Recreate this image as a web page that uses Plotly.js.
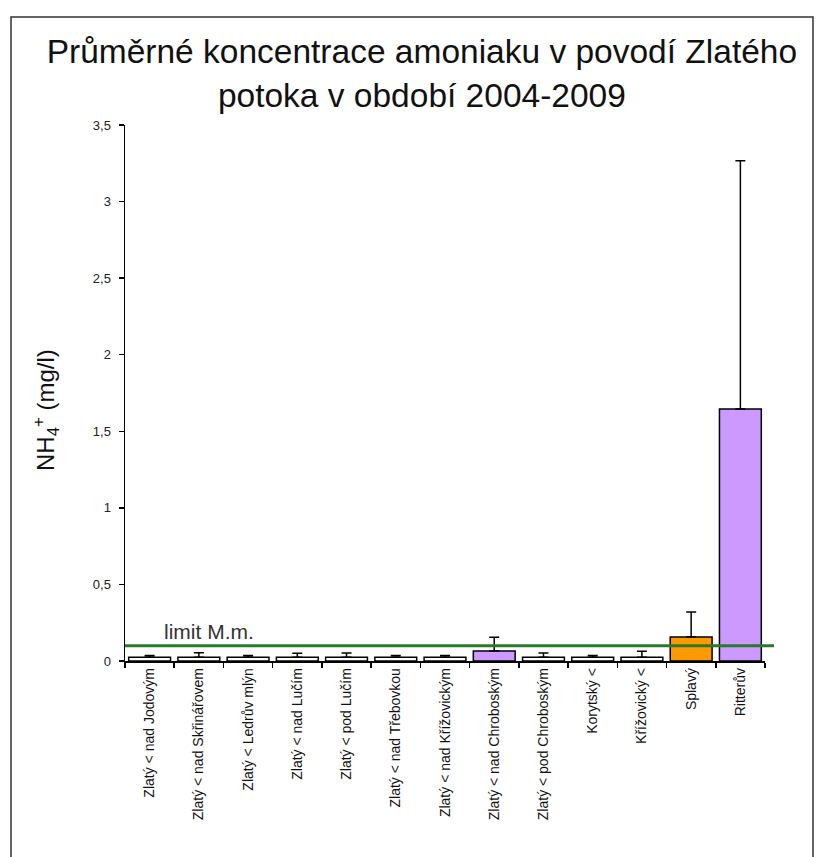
<!DOCTYPE html>
<html>
<head>
<meta charset="utf-8">
<script src="https://cdn.plot.ly/plotly-3.0.1.min.js"></script>
<style>
html,body{margin:0;padding:0;background:#fff;}
#chart{width:816px;height:857px;}
</style>
</head>
<body>
<div id="chart"></div>
<script>
// ---- data ----
const categories = [
  "Zlatý < nad Jodovým",
  "Zlatý < nad Skřinářovem",
  "Zlatý < Ledrův mlýn",
  "Zlatý < nad Lučím",
  "Zlatý < pod Lučím",
  "Zlatý < nad Třebovkou",
  "Zlatý < nad Křížovickým",
  "Zlatý < nad Chroboským",
  "Zlatý < pod Chroboským",
  "Korytský <",
  "Křížovický <",
  "Splavý",
  "Ritterův"
];
const meanValues = [0.024, 0.024, 0.024, 0.024, 0.024, 0.024, 0.024, 0.065, 0.024, 0.024, 0.024, 0.157, 1.646];
const errorPlus  = [0.012, 0.030, 0.012, 0.026, 0.028, 0.012, 0.012, 0.090, 0.028, 0.012, 0.040, 0.163, 1.620];
const barColors  = ["#FFFFFF","#FFFFFF","#FFFFFF","#FFFFFF","#FFFFFF","#FFFFFF","#FFFFFF","#CC99FF","#FFFFFF","#FFFFFF","#FFFFFF","#FF9900","#CC99FF"];
const limitValue = 0.1;
const limitLabel = "limit M.m.";
const yTickVals = [0, 0.5, 1, 1.5, 2, 2.5, 3, 3.5];
const titleText = "Průměrné koncentrace amoniaku v povodí Zlatého<br>potoka v období 2004-2009";
const yTitleText = "NH<sub>4</sub><sup>+</sup> (mg/l)";

// ---- chart ----
const FONT = "Liberation Sans, Arial, sans-serif";
const W = 816, H = 857;
const L = 125, R = 51, T = 125, B = 196;
const pw = W - L - R, ph = H - T - B;
const px2x = p => (p - L) / pw;
const py2y = p => (H - B - p) / ph;

const trace = {
  type: "bar",
  x: categories,
  y: meanValues,
  marker: {color: barColors, line: {color: "#000", width: 1.5}},
  error_y: {type: "data", array: errorPlus, arrayminus: errorPlus.map(() => 0), symmetric: false,
            color: "#000", thickness: 1.5, width: 5},
  hoverinfo: "x+y"
};

const layout = {
  width: W, height: H,
  margin: {l: L, r: R, t: T, b: B},
  paper_bgcolor: "#fff", plot_bgcolor: "#fff",
  separators: ", ",
  font: {family: FONT, color: "#000"},
  showlegend: false,
  bargap: 0.15,
  title: {text: titleText, font: {family: FONT, size: 33.5, color: "#111"},
          x: 0.517, xanchor: "center", y: 0.926, yanchor: "middle", yref: "container"},
  xaxis: {
    type: "category", showgrid: false, zeroline: false,
    showline: true, linecolor: "#000", linewidth: 1.5,
    ticks: "outside", ticklen: 5, tickcolor: "#000", tickwidth: 1.5, tickson: "boundaries",
    tickangle: -90, tickfont: {family: FONT, size: 14, color: "#111"},
    automargin: false
  },
  yaxis: {
    range: [0, 3.5], showgrid: false, zeroline: false,
    showline: true, linecolor: "#000", linewidth: 1.5,
    ticks: "outside", ticklen: 5, tickcolor: "#000", tickwidth: 1.5,
    tickvals: yTickVals, tickformat: ".1~f", ticklabelstandoff: 5,
    tickfont: {family: FONT, size: 13, color: "#222"},
    automargin: false
  },
  shapes: [
    {type: "line", xref: "paper", yref: "y", x0: 0, x1: px2x(774), y0: limitValue, y1: limitValue,
     line: {color: "#2A7A2A", width: 3}},
    {type: "rect", xref: "paper", yref: "paper", layer: "below",
     x0: px2x(11), x1: px2x(813), y0: py2y(870), y1: py2y(17),
     line: {color: "#333", width: 1.5}, fillcolor: "rgba(0,0,0,0)"}
  ],
  annotations: [
    {text: limitLabel, xref: "paper", yref: "y", x: px2x(162), y: 0.19, xanchor: "left", yanchor: "middle",
     showarrow: false, font: {family: FONT, size: 21, color: "#333"}},
    {text: yTitleText, xref: "paper", yref: "paper", x: px2x(46), y: py2y(410), xanchor: "center", yanchor: "middle",
     textangle: -90, showarrow: false, font: {family: FONT, size: 24, color: "#111"}}
  ]
};

Plotly.newPlot("chart", [trace], layout, {displayModeBar: false, staticPlot: true});
</script>
</body>
</html>
